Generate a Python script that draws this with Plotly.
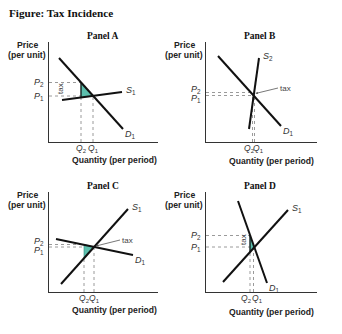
import plotly.graph_objects as go

# ---------------- data (quantity, price units) ----------------
# Panel A
a_dem_q = [1.0, 7.4]; a_dem_p = [8.4, 1.3]
a_sup_q = [1.3, 7.3]; a_sup_p = [4.2, 5.0]
a_q1, a_q2 = 4.4, 3.2
a_p1, a_p2, a_ps = 4.6, 5.95, 4.45
# Panel B
b_dem_q = [1.2, 7.5]; b_dem_p = [8.6, 1.6]
b_sup_q = [4.3, 5.3]; b_sup_p = [1.3, 8.4]
b_q1, b_q2 = 4.85, 4.65
b_p1, b_p2, b_ps = 4.65, 4.95, 4.65
# Panel C
c_dem_q = [0.7, 8.4]; c_dem_p = [5.3, 3.7]
c_sup_q = [1.2, 7.9]; c_sup_p = [0.8, 8.3]
c_q1, c_q2 = 4.5, 3.5
c_p1, c_p2, c_ps = 4.5, 4.75, 3.4
# Panel D
d_dem_q = [3.2, 6.1]; d_dem_p = [9.1, 0.9]
d_sup_q = [1.7, 8.2]; d_sup_p = [1.0, 8.2]
d_q1, d_q2 = 4.75, 4.4
d_p1, d_p2, d_ps = 4.5, 5.65, 4.0

panel_names = ["Panel A", "Panel B", "Panel C", "Panel D"]
supply_names = ["S", "S", "S", "S"]
supply_subs = ["1", "2", "1", "1"]
demand_subs = ["1", "1", "1", "1"]

W, H = 342, 334
SANS = "Liberation Sans"
SERIF = "Liberation Serif"
TEAL = "#5cbfad"
DOT = "#9a9a9a"

# panel boxes in pixels: (left, right, top, bottom)
boxes = [(49, 158, 42, 142), (206, 317, 42, 142), (49, 158, 192, 292), (206, 317, 192, 292)]
quantity_title_gap = [18, 19, 18, 20]

panels = [
    dict(dq=a_dem_q, dp=a_dem_p, sq=a_sup_q, sp=a_sup_p, q1=a_q1, q2=a_q2, p1=a_p1, p2=a_p2, ps=a_ps,
         tri=True, wedge=True),
    dict(dq=b_dem_q, dp=b_dem_p, sq=b_sup_q, sp=b_sup_p, q1=b_q1, q2=b_q2, p1=b_p1, p2=b_p2, ps=b_ps,
         tri=False, wedge=False),
    dict(dq=c_dem_q, dp=c_dem_p, sq=c_sup_q, sp=c_sup_p, q1=c_q1, q2=c_q2, p1=c_p1, p2=c_p2, ps=c_ps,
         tri=True, wedge=False),
    dict(dq=d_dem_q, dp=d_dem_p, sq=d_sup_q, sp=d_sup_p, q1=d_q1, q2=d_q2, p1=d_p1, p2=d_p2, ps=d_ps,
         tri=True, wedge=True),
]

fig = go.Figure()
layout = dict(width=W, height=H, margin=dict(l=0, r=0, t=0, b=0),
              paper_bgcolor="white", plot_bgcolor="white", showlegend=False)
annotations = []

def ann(text, x, y, xref, yref, size=9, family=SANS, color="#222", **kw):
    d = dict(text=text, x=x, y=y, xref=xref, yref=yref, showarrow=False,
             xanchor="center", yanchor="middle",
             font=dict(size=size, family=family, color=color))
    d.update(kw)
    annotations.append(d)

for i, (pn, box) in enumerate(zip(panels, boxes)):
    l, r, t, b = box
    xr = (r - l) / 10.0
    sfx = "" if i == 0 else str(i + 1)
    xa, ya = "x" + sfx, "y" + sfx
    layout["xaxis" + sfx] = dict(domain=[l / W, r / W], range=[0, xr], anchor=ya,
                                 showline=True, linecolor="#333", linewidth=1,
                                 showticklabels=False, ticks="", showgrid=False, zeroline=False,
                                 fixedrange=True)
    layout["yaxis" + sfx] = dict(domain=[(H - b) / H, (H - t) / H], range=[0, 10], anchor=xa,
                                 showline=True, linecolor="#333", linewidth=1,
                                 showticklabels=False, ticks="", showgrid=False, zeroline=False,
                                 fixedrange=True)
    q1, q2, p1, p2, ps = pn["q1"], pn["q2"], pn["p1"], pn["p2"], pn["ps"]
    # dotted guide lines
    for xs, ys in [([0, q2], [p2, p2]), ([0, q1], [p1, p1]), ([q2, q2], [0, ps]), ([q1, q1], [0, p1])]:
        fig.add_trace(go.Scatter(x=xs, y=ys, mode="lines", xaxis=xa, yaxis=ya,
                                 line=dict(color=DOT, width=1, dash="dot"), hoverinfo="skip"))
    # tax triangle
    if pn["tri"]:
        fig.add_trace(go.Scatter(x=[q2, q2, q1, q2], y=[p2, ps, p1, p2], mode="lines",
                                 fill="toself", fillcolor=TEAL, xaxis=xa, yaxis=ya,
                                 line=dict(color="#2f8f80", width=0.6), hoverinfo="skip"))
    if pn["wedge"]:
        fig.add_trace(go.Scatter(x=[q2, q2], y=[ps, p2], mode="lines", xaxis=xa, yaxis=ya,
                                 line=dict(color="#111", width=1.2), hoverinfo="skip"))
    # demand and supply
    fig.add_trace(go.Scatter(x=pn["dq"], y=pn["dp"], mode="lines", xaxis=xa, yaxis=ya,
                             line=dict(color="#111", width=2), hoverinfo="skip"))
    fig.add_trace(go.Scatter(x=pn["sq"], y=pn["sp"], mode="lines", xaxis=xa, yaxis=ya,
                             line=dict(color="#111", width=2), hoverinfo="skip"))

    # axis titles and panel titles (paper coords)
    cx = (l - 22) / W
    ann("<b>Price</b>", cx, (H - (t + 3)) / H, "paper", "paper", size=8.7)
    ann("<b>(per unit)</b>", cx, (H - (t + 13)) / H, "paper", "paper", size=8.7)
    qx = (l + 65) / W
    ann("<b>Quantity (per period)</b>", qx, (H - (b + quantity_title_gap[i])) / H, "paper", "paper", size=8.6)
    ann("<b>" + panel_names[i] + "</b>", (l + 54) / W, (H - (t - 6)) / H, "paper", "paper",
        size=9.5, family=SERIF, color="#111")

    # P and Q labels
    sep = p2 - p1
    off = 0 if sep > 0.9 else (3 if sep > 0.15 else 5)
    ann("<i>P</i><sub>2</sub>", 0, p2, xa, ya, size=9, color="#333", xanchor="right", xshift=-3, yshift=off)
    ann("<i>P</i><sub>1</sub>", 0, p1, xa, ya, size=9, color="#333", xanchor="right", xshift=-3, yshift=-off)
    qoff = 0 if (q1 - q2) > 0.9 else 4
    ann("<i>Q</i><sub>2</sub>", q2, 0, xa, ya, size=8.5, color="#333", yshift=-6, xshift=-qoff)
    ann("<i>Q</i><sub>1</sub>", q1, 0, xa, ya, size=8.5, color="#333", yshift=-6, xshift=qoff)
    # curve labels
    ann("<i>" + supply_names[i] + "</i><sub>" + supply_subs[i] + "</sub>",
        pn["sq"][1], pn["sp"][1], xa, ya, size=9, color="#333", xanchor="left", xshift=2, yshift=2)
    ann("<i>D</i><sub>" + demand_subs[i] + "</sub>",
        pn["dq"][1], pn["dp"][1], xa, ya, size=9, color="#333", xanchor="left", xshift=0, yshift=-5)

# tax labels
ann("tax", 1.1, 5.3, "x", "y", size=8, color="#444", textangle=-90)
ann("tax", 3.7, 5.2, "x4", "y4", size=8, color="#444", textangle=-90)
annotations.append(dict(text="tax", x=b_q1 + 0.1, y=b_p2 - 0.1, xref="x2", yref="y2",
                        ax=7.2, ay=5.4, axref="x2", ayref="y2", showarrow=True,
                        arrowhead=2, arrowsize=0.6, arrowwidth=0.8, arrowcolor="#555",
                        xanchor="left", font=dict(size=8, family=SANS, color="#444")))
annotations.append(dict(text="tax", x=c_q1 + 0.2, y=c_p1 + 0.1, xref="x3", yref="y3",
                        ax=7.1, ay=5.2, axref="x3", ayref="y3", showarrow=True,
                        arrowhead=2, arrowsize=0.6, arrowwidth=0.8, arrowcolor="#555",
                        xanchor="left", font=dict(size=8, family=SANS, color="#444")))

# figure title
ann("<b>Figure: Tax Incidence</b>", 7 / W, (H - 13) / H, "paper", "paper", size=11.2,
    family=SERIF, color="#111", xanchor="left")

layout["annotations"] = annotations
fig.update_layout(**layout)
fig.write_html("out.html")
